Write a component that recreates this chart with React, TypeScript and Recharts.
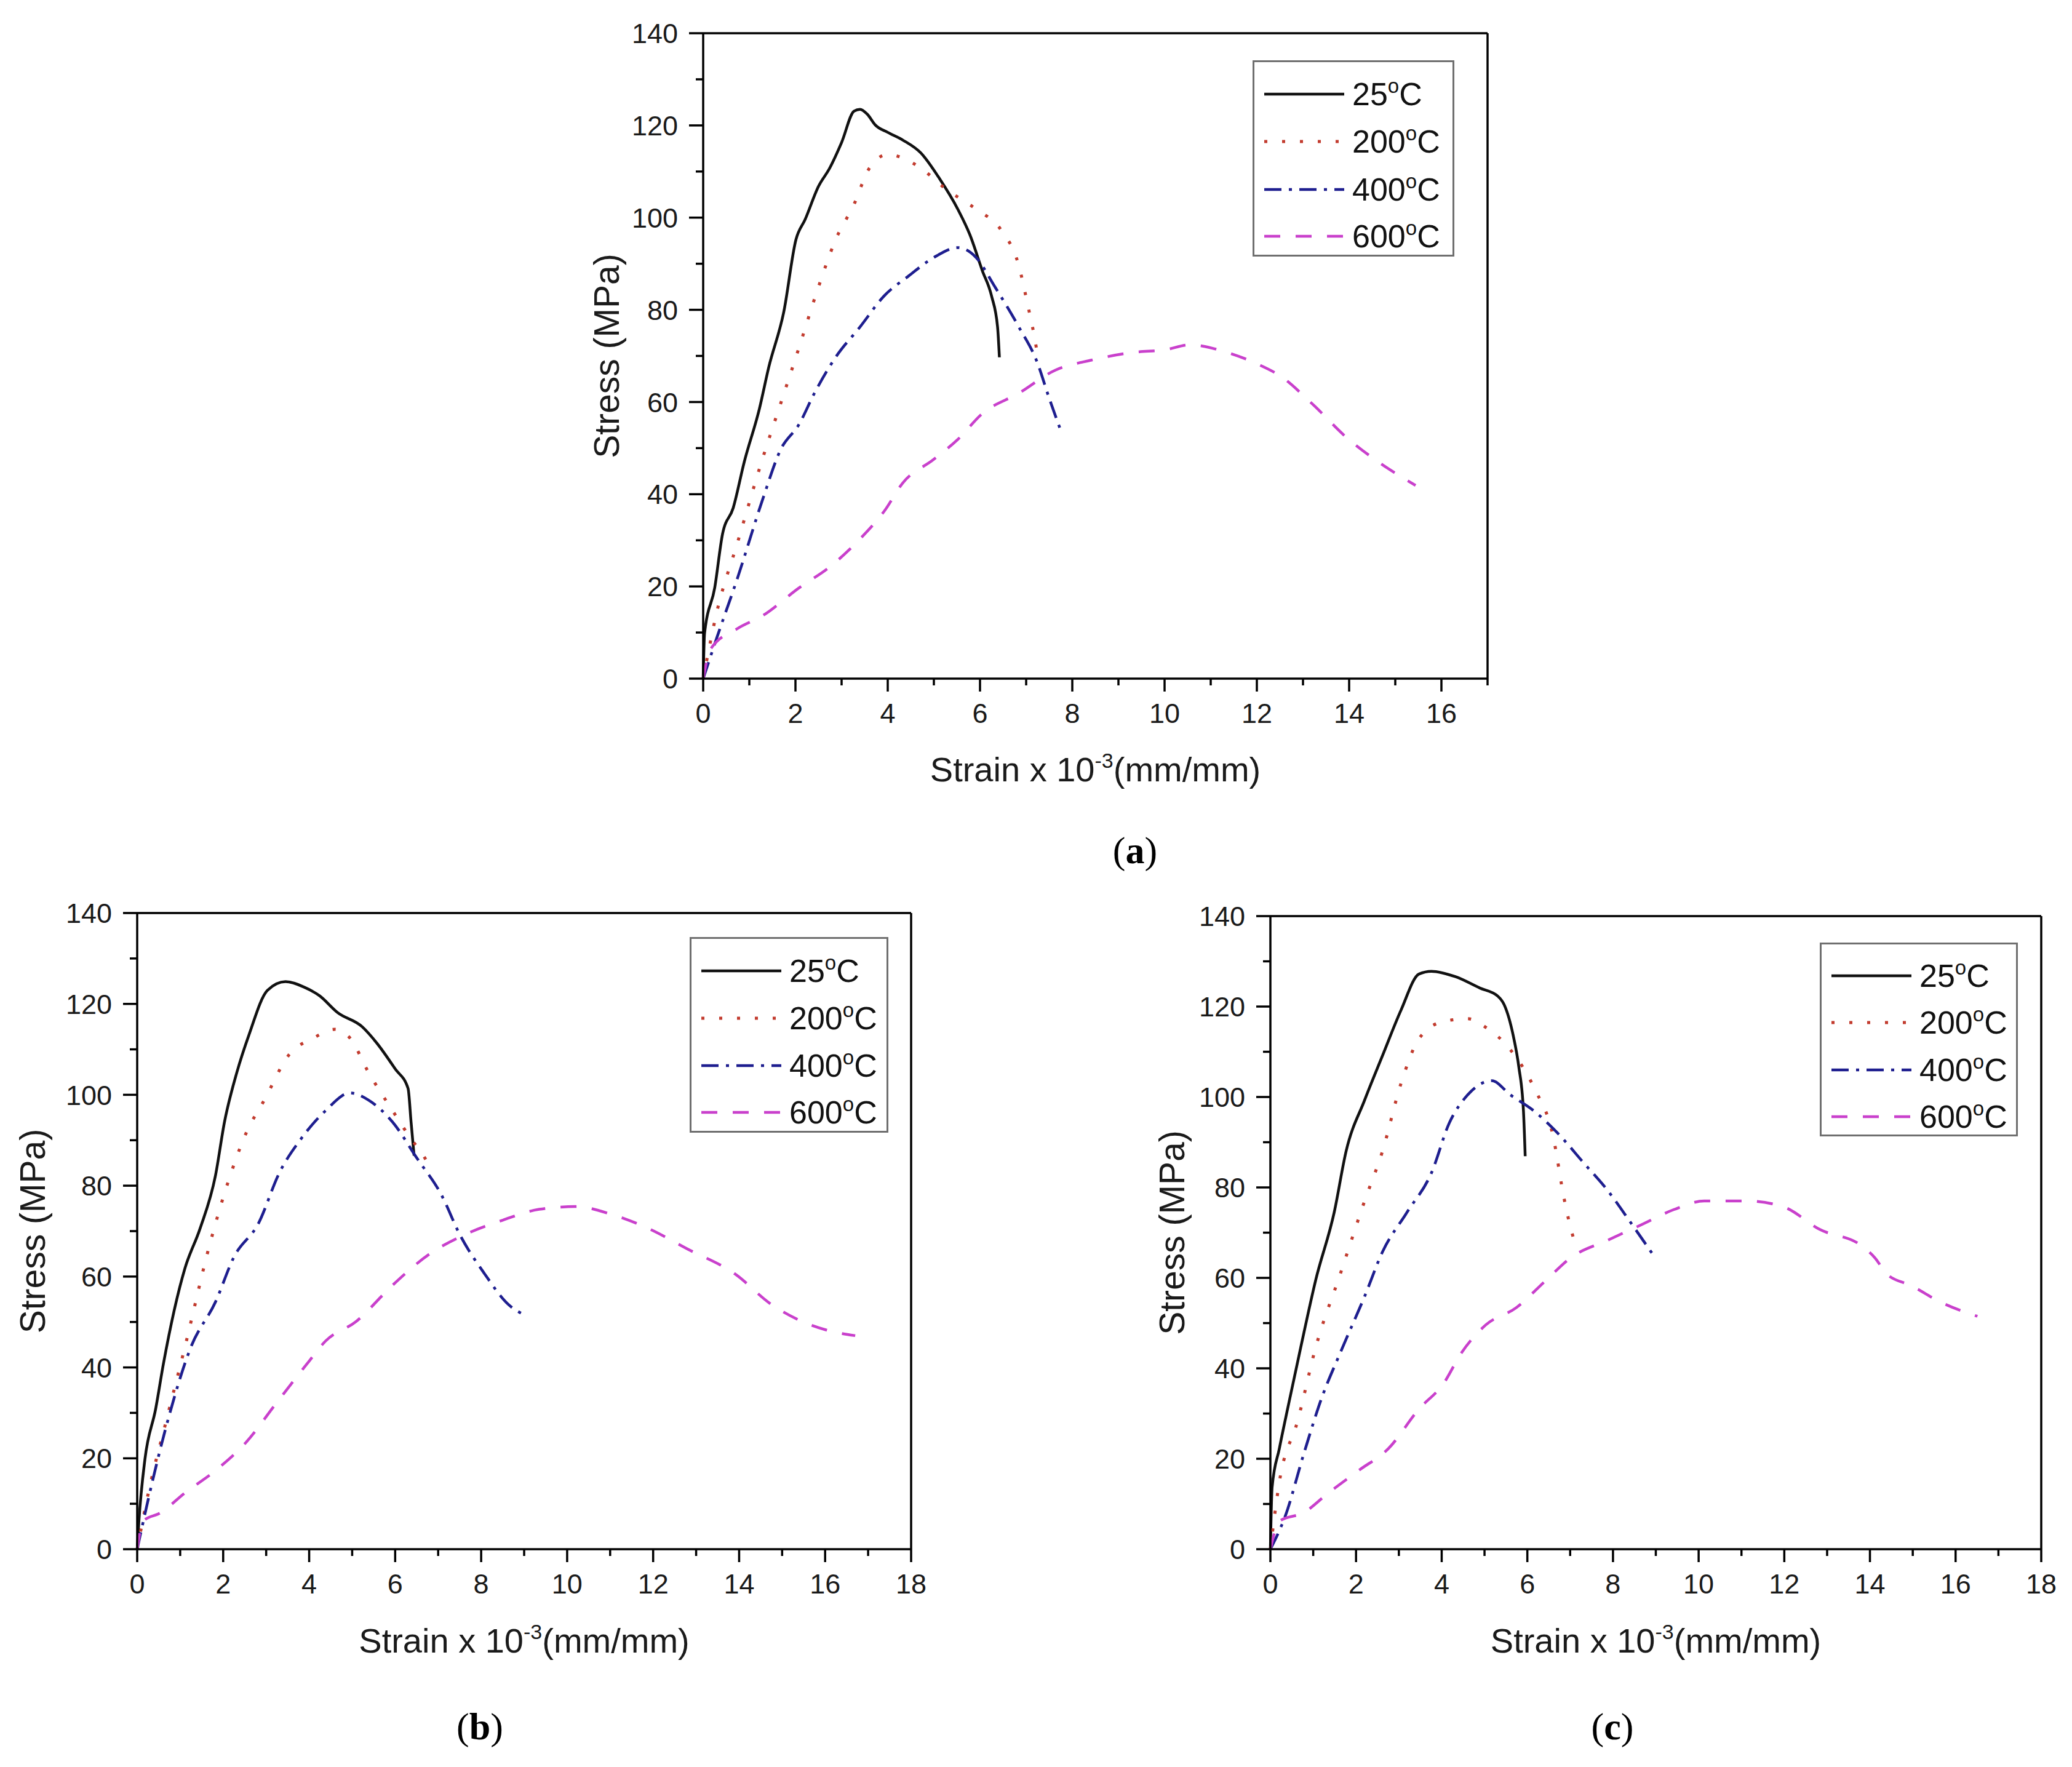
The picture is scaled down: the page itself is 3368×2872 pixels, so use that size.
import React from 'react';
import { LineChart, Line, XAxis, YAxis, Legend, ReferenceLine } from 'recharts';

type P = [number, number];

// values (strain x 1e-3, stress MPa)
const a25: P[] = [[0,0],[0.03,9.8],[0.25,19.7],[0.42,31.4],[0.65,37],[0.89,47],[1.22,58.6],[1.42,67.5],[1.75,79.7],[2.01,95.2],[2.21,99.6],[2.5,106.8],[2.74,110.7],[3.0,116.3],[3.27,123.1],[3.4,123.5],[3.56,122.4],[3.73,120.1],[4.0,118.5],[4.33,116.8],[4.72,114],[5.12,108.5],[5.52,101.8],[5.78,96.3],[6.05,88.5],[6.25,83],[6.38,76.3],[6.42,69.7]];
const a200: P[] = [[0,0],[0.29,14.2],[0.75,29.7],[1.28,47.5],[1.68,59.7],[2.08,71.9],[2.47,84.1],[2.87,95.2],[3.27,102.9],[3.6,110.7],[4.0,113.7],[4.33,112.9],[4.72,110.7],[5.25,106.3],[5.92,101.8],[6.45,97.4],[6.84,89.6],[7.04,80.8],[7.18,74.1],[7.25,70]];
const a400: P[] = [[0,0],[0.29,8.7],[0.75,22],[1.28,38.6],[1.68,49.7],[2.08,55.2],[2.41,61.9],[2.87,69.7],[3.4,76.3],[3.92,83],[4.46,87.4],[4.99,91.3],[5.52,93.5],[5.92,91.3],[6.31,85.2],[6.84,76.3],[7.24,68.6],[7.5,60.8],[7.74,54.1]];
const a600: P[] = [[0,0],[0.16,6.4],[0.75,10.9],[1.28,13.6],[2.08,19.7],[2.74,24.2],[3.4,30.3],[3.93,36.4],[4.33,42.5],[4.99,47.5],[5.52,51.9],[6.05,57.5],[6.84,61.9],[7.63,66.9],[8.42,69.1],[9.36,70.8],[10.0,71.3],[10.55,72.4],[11.34,70.8],[12.0,68.3],[12.53,65.5],[13.19,59.7],[13.99,51.9],[14.65,46.9],[15.44,41.9]];

const b25: P[] = [[0,0],[0.04,6.2],[0.18,19.8],[0.43,30.9],[0.61,40.8],[1.11,61.8],[1.46,70.5],[1.82,82.2],[2.03,94],[2.32,105],[2.6,113.2],[3.03,123],[3.45,124.9],[3.88,123.7],[4.24,121.8],[4.66,118.1],[5.23,115],[5.58,111.3],[6.0,105.7],[6.3,101.4],[6.37,94],[6.44,86.6]];
const b200: P[] = [[0,0],[0.26,12.4],[0.68,28.4],[1.11,44.5],[1.68,66.8],[2.1,80.4],[2.53,91.5],[2.96,98.9],[3.53,108.8],[4.1,112.5],[4.6,114.4],[4.95,112.5],[5.37,105.1],[5.94,96.5],[6.37,90.3],[6.66,86.6],[6.87,82.9]];
const b400: P[] = [[0,0],[0.26,11.1],[0.68,27.2],[1.25,44.5],[1.82,54.4],[2.25,64.3],[2.82,71.7],[3.31,82.9],[3.81,90.3],[4.38,96.5],[4.95,100.4],[5.37,98.9],[5.94,94],[6.51,86],[7.08,77.9],[7.5,69.3],[8.08,60.6],[8.64,53.8],[9.07,51.3]];
const b600: P[] = [[0,0],[0.14,6.2],[0.54,8],[1.11,12.4],[1.82,17.3],[2.53,23.5],[3.24,32.2],[3.95,40.8],[4.38,45.8],[5.09,50.1],[5.94,58.1],[6.79,64.9],[7.64,69.3],[8.5,72.4],[9.35,74.8],[10.2,75.4],[11.06,73.6],[11.91,70.5],[12.77,66.2],[13.9,60.6],[14.76,53.8],[15.33,50.7],[16.04,48.2],[16.7,47]];

const c25: P[] = [[0,0],[0.04,13.7],[0.21,22.3],[0.43,32.3],[0.71,44.7],[1.06,59.6],[1.49,74.5],[1.77,88.1],[2.2,99.3],[2.62,109.2],[3.05,119.2],[3.47,127.2],[3.76,127.8],[4.32,126.6],[4.89,124.1],[5.31,122.3],[5.46,120.4],[5.67,113.6],[5.8,106.7],[5.91,96.8],[5.95,86.9]];
const c200: P[] = [[0,0],[0.21,14.9],[0.64,28.5],[1.06,44.7],[1.63,60.8],[2.2,77],[2.62,88.1],[3.05,103],[3.47,112.9],[4.04,116.7],[4.61,117.3],[5.03,115.4],[5.6,110.5],[6.17,101.8],[6.59,91.8],[6.87,77],[7.02,70.7],[7.16,66.4]];
const c400: P[] = [[0,0],[0.35,7.4],[0.78,21.1],[1.2,33.5],[1.63,43.4],[2.2,55.9],[2.62,65.8],[3.19,74.5],[3.76,83.2],[4.18,94.3],[4.61,100.5],[5.17,103.6],[5.6,100.5],[6.17,96.8],[6.73,91.8],[7.3,85.6],[7.87,79.4],[8.43,72],[8.93,65.2]];
const c600: P[] = [[0,0],[0.21,6.2],[0.78,8.1],[1.35,12.4],[2.06,17.4],[2.76,22.3],[3.47,31],[4.04,36.6],[4.46,43.4],[5.03,49.6],[5.74,53.4],[6.45,59.6],[7.02,64.5],[7.87,68.3],[8.72,72],[9.42,75.1],[10.13,77],[11.13,77],[11.98,75.7],[12.83,70.7],[13.82,67],[14.11,64.5],[14.4,60.8],[14.96,58.3],[15.66,54.6],[16.51,51.5]];

const temps = ['25', '200', '400', '600'];
const stressTicks = [0, 10, 20, 30, 40, 50, 60, 70, 80, 90, 100, 110, 120, 130, 140];
const strainTicks17 = [0, 1, 2, 3, 4, 5, 6, 7, 8, 9, 10, 11, 12, 13, 14, 15, 16, 17];
const strainTicks18 = [0, 1, 2, 3, 4, 5, 6, 7, 8, 9, 10, 11, 12, 13, 14, 15, 16, 17, 18];

const LINE_STYLES = [
  { color: '#111111', dash: undefined, width: 4.5 },
  { color: '#C23B2E', dash: '5 24', width: 5 },
  { color: '#1E1E8F', dash: '28 12 5 12', width: 4.5 },
  { color: '#C940CC', dash: '26 25', width: 4.5 },
];

const SANS = '"Liberation Sans", Arial, sans-serif';
const AXIS = { stroke: '#000', strokeWidth: 3.5 };

const toPts = (d: P[]) => d.map(([x, y]) => ({ x, y }));

const XTick = (props: any) => {
  const { x, y, payload } = props;
  const major = payload.value % 2 === 0;
  return (
    <g>
      <line x1={x} x2={x} y1={y} y2={y + (major ? 21 : 11)} stroke="#000" strokeWidth={3.5} />
      {major && (
        <text x={x} y={y + 40} dy="0.71em" textAnchor="middle" fontSize={45} fontFamily={SANS} fill="#1a1a1a">
          {payload.value}
        </text>
      )}
    </g>
  );
};

const YTick = (props: any) => {
  const { x, y, payload } = props;
  const major = payload.value % 20 === 0;
  return (
    <g>
      <line x1={x - (major ? 23 : 12)} x2={x} y1={y} y2={y} stroke="#000" strokeWidth={3.5} />
      {major && (
        <text x={x - 41} y={y} dy="0.36em" textAnchor="end" fontSize={45} fontFamily={SANS} fill="#1a1a1a">
          {payload.value}
        </text>
      )}
    </g>
  );
};

const XTitle = (props: any) => {
  const vb = props.viewBox || {};
  const cx = vb.x + vb.width / 2;
  const base = vb.y + props.gap + 20;
  return (
    <text x={cx} y={base} textAnchor="middle" fontSize={56} fontFamily={SANS} fill="#1a1a1a">
      Strain x 10<tspan dy={-22} fontSize={34}>-3</tspan>
      <tspan dy={22}>(mm/mm)</tspan>
    </text>
  );
};

const YTitle = (props: any) => {
  const vb = props.viewBox || {};
  const cx = vb.x + vb.width - props.gap;
  const cy = vb.y + vb.height / 2;
  return (
    <text
      x={cx}
      y={cy}
      transform={`rotate(-90, ${cx}, ${cy})`}
      textAnchor="middle"
      dominantBaseline="central"
      fontSize={57}
      fontFamily={SANS}
      fill="#1a1a1a"
    >
      Stress (MPa)
    </text>
  );
};

const LegendBox = ({ w, h }: { w: number; h: number }) => {
  // row centres as a share of the box height
  const rows = [0.172, 0.414, 0.657, 0.897].map((f) => Math.round(f * h));
  return (
    <svg width={w} height={h + 12} style={{ display: 'block', overflow: 'visible' }}>
      <rect x={1.5} y={1.5} width={w - 3} height={h - 3} fill="#fff" stroke="#6f6f6f" strokeWidth={3} />
      {temps.map((t, i) => {
        const s = LINE_STYLES[i];
        return (
          <g key={t}>
            <line x1={19} x2={149} y1={rows[i]} y2={rows[i]} stroke={s.color} strokeWidth={s.width} strokeDasharray={s.dash} />
            <text x={162} y={rows[i] + 18} fontSize={52} fontFamily={SANS} fill="#111">
              {t}
              <tspan dy={-20} fontSize={33}>o</tspan>
              <tspan dy={20}>C</tspan>
            </text>
          </g>
        );
      })}
    </svg>
  );
};

type PanelProps = {
  left: number; top: number; w: number; h: number;
  plotL: number; plotT: number; plotW: number; plotH: number;
  xMax: number; xTicks: number[]; series: P[][];
  legL: number; legT: number; legW: number; legH: number;
  yGap: number; xGap: number;
};

const Panel = (p: PanelProps) => {
  const xAxisH = p.h - p.plotT - p.plotH;
  const right = p.w - p.plotL - p.plotW;
  return (
    <div style={{ position: 'absolute', left: p.left, top: p.top, width: p.w, height: p.h }}>
      <LineChart width={p.w} height={p.h} margin={{ top: p.plotT, right, bottom: 0, left: 0 }}>
        <XAxis
          dataKey="x"
          type="number"
          domain={[0, p.xMax]}
          ticks={p.xTicks}
          interval={0}
          height={xAxisH}
          tickSize={0}
          tickMargin={0}
          tickLine={false}
          tick={<XTick />}
          axisLine={AXIS}
          label={<XTitle gap={p.xGap} />}
        />
        <YAxis
          type="number"
          domain={[0, 140]}
          ticks={stressTicks}
          interval={0}
          width={p.plotL}
          tickSize={0}
          tickMargin={0}
          tickLine={false}
          tick={<YTick />}
          axisLine={AXIS}
          label={<YTitle gap={p.yGap} />}
        />
        {/* frame: top and right edges */}
        <ReferenceLine y={140} stroke="#000" strokeWidth={3.5} />
        <ReferenceLine x={p.xMax} stroke="#000" strokeWidth={3.5} />
        <Legend
          layout="horizontal"
          verticalAlign="middle"
          align="center"
          wrapperStyle={{ left: p.legL, top: p.legT, width: p.legW, height: p.legH + 12 }}
          content={() => <LegendBox w={p.legW} h={p.legH} />}
        />
        {p.series.map((d, i) => (
          <Line
            key={temps[i]}
            name={`${temps[i]}°C`}
            data={toPts(d)}
            dataKey="y"
            type="monotoneX"
            stroke={LINE_STYLES[i].color}
            strokeWidth={LINE_STYLES[i].width}
            strokeDasharray={LINE_STYLES[i].dash}
            dot={false}
            activeDot={false}
            isAnimationActive={false}
          />
        ))}
      </LineChart>
    </div>
  );
};

const Caption = ({ cx, top, letter }: { cx: number; top: number; letter: string }) => (
  <div
    style={{
      position: 'absolute', left: cx - 100, top, width: 200, height: 60, lineHeight: '60px',
      textAlign: 'center', fontFamily: '"Liberation Serif", "Times New Roman", serif', fontSize: 62, color: '#000',
    }}
  >
    (<b>{letter}</b>)
  </div>
);

export default function App() {
  return (
    <div style={{ position: 'absolute', left: 0, top: 0, width: 3368, height: 2872, background: '#fff', overflow: 'hidden' }}>
      <Panel
        left={900} top={0} w={1600} h={1330}
        plotL={243} plotT={54} plotW={1275} plotH={1049}
        xMax={17} xTicks={strainTicks17} series={[a25, a200, a400, a600]}
        legL={1136} legT={98} legW={328} legH={319}
        yGap={157} xGap={147}
      />
      <Panel
        left={0} top={1440} w={1560} h={1300}
        plotL={223} plotT={44} plotW={1258} plotH={1034}
        xMax={18} xTicks={strainTicks18} series={[b25, b200, b400, b600]}
        legL={1121} legT={83} legW={323} legH={318}
        yGap={170} xGap={148}
      />
      <Panel
        left={1820} top={1440} w={1548} h={1300}
        plotL={245} plotT={49} plotW={1253} plotH={1029}
        xMax={18} xTicks={strainTicks18} series={[c25, c200, c400, c600]}
        legL={1138} legT={92} legW={322} legH={315}
        yGap={160} xGap={148}
      />
      <Caption cx={1845} top={1352} letter="a" />
      <Caption cx={780} top={2776} letter="b" />
      <Caption cx={2621} top={2776} letter="c" />
    </div>
  );
}
